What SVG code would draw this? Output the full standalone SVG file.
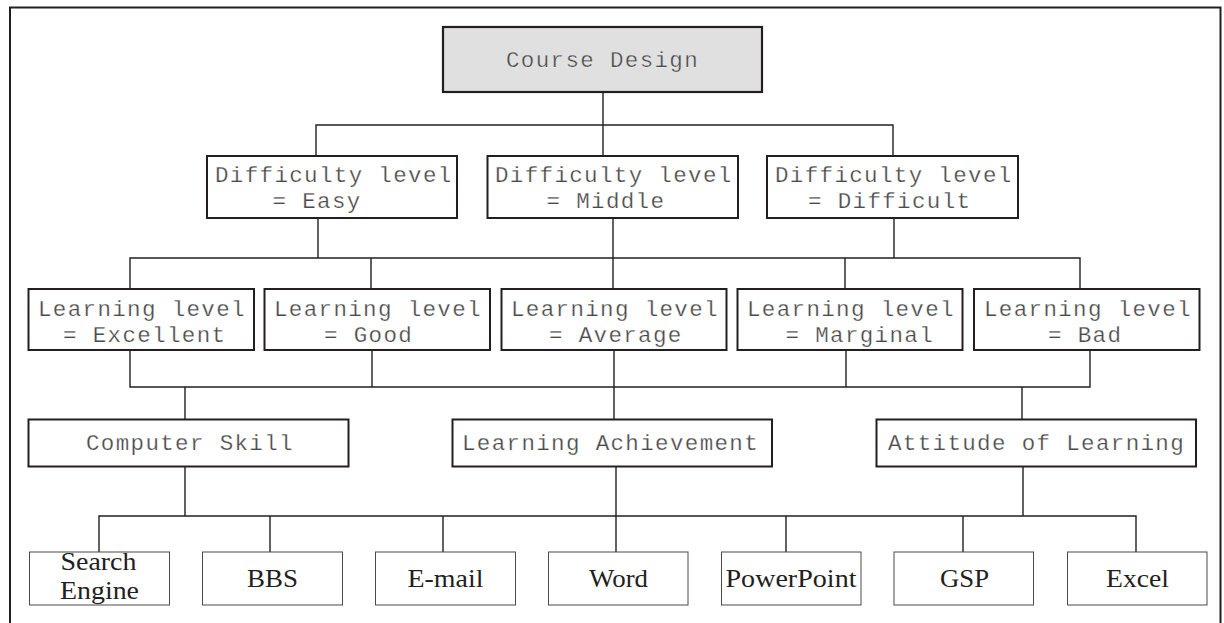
<svg xmlns="http://www.w3.org/2000/svg" width="1224" height="623" viewBox="0 0 1224 623">
  <style>
    .frame { fill: none; stroke: #231f20; stroke-width: 2; }
    .box { fill: #ffffff; stroke: #231f20; stroke-width: 2; }
    .root { fill: #e0e0e0; stroke: #231f20; stroke-width: 2.2; }
    .leaf { fill: #ffffff; stroke: #4a4a4a; stroke-width: 1; }
    .mono { font-family: "Liberation Mono", "DejaVu Sans Mono", monospace; font-size: 22.5px; letter-spacing: 1.35px; fill: #4a4a4a; stroke: #ffffff; stroke-width: 0.25px; paint-order: normal; }
    .serif { font-family: "Liberation Serif", "Times New Roman", serif; font-size: 25px; fill: #231f20; text-anchor: middle; }
    .links path { fill: none; stroke: #231f20; stroke-width: 1.4; }
  </style>

  <rect width="1224" height="623" fill="#ffffff"/>
  <rect class="frame" x="10" y="7.5" width="1210.5" height="640"/>

  <!-- connectors -->
  <g class="links">
    <path d="M603 92 V156 M316 156 V125 H893 V156"/>
    <path d="M318 218 V258 M613 218 V289 M894 218 V258 M130 289 V258 H1080 V289 M371 258 V289 M845 258 V289"/>
    <path d="M130 350 V387 H1090 V350 M372 350 V387 M614 350 V387 M846 350 V387"/>
    <path d="M185 387 V419 M614 387 V419 M1022 387 V419"/>
    <path d="M185 467 V516 M616 467 V516 M1023 467 V516"/>
    <path d="M99 552 V516 H1136 V552 M270 516 V552 M443 516 V552 M616 516 V552 M786 516 V552 M963 516 V552"/>
  </g>

  <g id="course-design">
    <rect class="root" x="443" y="27" width="319" height="65"/>
    <text class="mono" x="506" y="67">Course Design</text>
  </g>

  <g id="difficulty-easy">
    <rect class="box" x="207" y="156" width="250" height="62"/>
    <text class="mono" x="215" y="181.5">Difficulty level</text>
    <text class="mono" x="272.5" y="208">= Easy</text>
  </g>
  <g id="difficulty-middle">
    <rect class="box" x="487.5" y="156" width="250.5" height="62"/>
    <text class="mono" x="495" y="181.5">Difficulty level</text>
    <text class="mono" x="546.5" y="208">= Middle</text>
  </g>
  <g id="difficulty-difficult">
    <rect class="box" x="767" y="156" width="251" height="62"/>
    <text class="mono" x="775" y="181.5">Difficulty level</text>
    <text class="mono" x="808" y="208">= Difficult</text>
  </g>

  <g id="learning-excellent">
    <rect class="box" x="28.5" y="289" width="225.5" height="61"/>
    <text class="mono" x="38" y="315.5">Learning level</text>
    <text class="mono" x="63" y="341.5">= Excellent</text>
  </g>
  <g id="learning-good">
    <rect class="box" x="264.5" y="289" width="225.5" height="61"/>
    <text class="mono" x="274" y="315.5">Learning level</text>
    <text class="mono" x="324" y="341.5">= Good</text>
  </g>
  <g id="learning-average">
    <rect class="box" x="501.5" y="289" width="225" height="61"/>
    <text class="mono" x="511" y="315.5">Learning level</text>
    <text class="mono" x="549" y="341.5">= Average</text>
  </g>
  <g id="learning-marginal">
    <rect class="box" x="737.5" y="289" width="225" height="61"/>
    <text class="mono" x="747" y="315.5">Learning level</text>
    <text class="mono" x="785.5" y="341.5">= Marginal</text>
  </g>
  <g id="learning-bad">
    <rect class="box" x="974" y="289" width="225.5" height="61"/>
    <text class="mono" x="984" y="315.5">Learning level</text>
    <text class="mono" x="1048" y="341.5">= Bad</text>
  </g>

  <g id="computer-skill">
    <rect class="box" x="28.5" y="419.5" width="320" height="47"/>
    <text class="mono" x="86" y="450">Computer Skill</text>
  </g>
  <g id="learning-achievement">
    <rect class="box" x="452.5" y="419.5" width="319.5" height="47"/>
    <text class="mono" x="462" y="450">Learning Achievement</text>
  </g>
  <g id="attitude-of-learning">
    <rect class="box" x="876.5" y="419.5" width="319.5" height="47"/>
    <text class="mono" x="888" y="450">Attitude of Learning</text>
  </g>

  <g id="search-engine">
    <rect class="leaf" x="29.5" y="552" width="140" height="53"/>
    <text class="serif" x="98.5" y="569.5" textLength="76" lengthAdjust="spacingAndGlyphs">Search</text>
    <text class="serif" x="99.5" y="599" textLength="79" lengthAdjust="spacingAndGlyphs">Engine</text>
  </g>
  <g id="bbs">
    <rect class="leaf" x="202.5" y="552" width="140" height="53"/>
    <text class="serif" x="272.5" y="587" textLength="51" lengthAdjust="spacingAndGlyphs">BBS</text>
  </g>
  <g id="e-mail">
    <rect class="leaf" x="375.5" y="552" width="140" height="53"/>
    <text class="serif" x="445.5" y="587" textLength="76" lengthAdjust="spacingAndGlyphs">E-mail</text>
  </g>
  <g id="word">
    <rect class="leaf" x="548.5" y="552" width="139.5" height="53"/>
    <text class="serif" x="618.5" y="587" textLength="59" lengthAdjust="spacingAndGlyphs">Word</text>
  </g>
  <g id="powerpoint">
    <rect class="leaf" x="721.5" y="552" width="139.5" height="53"/>
    <text class="serif" x="791" y="587" textLength="131" lengthAdjust="spacingAndGlyphs">PowerPoint</text>
  </g>
  <g id="gsp">
    <rect class="leaf" x="894" y="552" width="139.5" height="53"/>
    <text class="serif" x="964.5" y="587" textLength="49" lengthAdjust="spacingAndGlyphs">GSP</text>
  </g>
  <g id="excel">
    <rect class="leaf" x="1067.5" y="552" width="139.5" height="53"/>
    <text class="serif" x="1137.5" y="587" textLength="63" lengthAdjust="spacingAndGlyphs">Excel</text>
  </g>
</svg>
